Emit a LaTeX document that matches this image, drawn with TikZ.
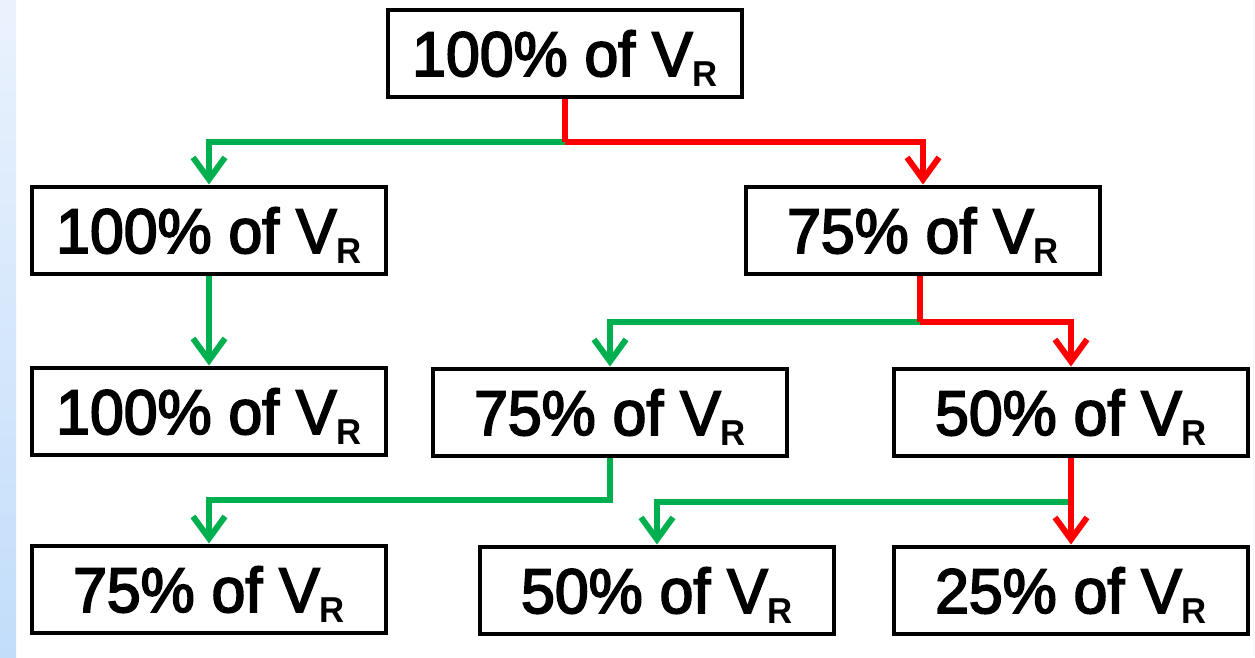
\documentclass[tikz,border=0pt]{standalone}
\usepackage{fontspec}
\setmainfont{Liberation Sans}
\newfontfamily\boxfont[FakeBold=3]{Liberation Sans}
\newfontfamily\subfont{Liberation Sans Bold}
\usetikzlibrary{arrows.meta}
\definecolor{pgreen}{HTML}{00B050}
\definecolor{pred}{HTML}{FF0000}
\definecolor{stripTop}{HTML}{EAF2FD}
\definecolor{stripBot}{HTML}{C2DDFA}
\newcommand{\vr}[1]{\raisebox{-23pt}[0pt][0pt]{\scalebox{0.965}[1]{\boxfont\fontsize{63}{63}\selectfont #1 of V\raisebox{-10pt}{\subfont\fontsize{36}{36}\selectfont R}}}}
\tikzset{
  box/.style={draw=black, line width=4pt, minimum width=354pt, minimum height=87pt,
    inner sep=0pt, fill=white},
  conn/.style={line width=6pt},
  arr/.style={conn, -{Straight Barb[length=22pt,width=32pt,line width=6pt]}},
}
\begin{document}
\begin{tikzpicture}[x=1pt,y=-1pt]
\useasboundingbox (0,0) rectangle (1255,657);
\fill[white] (0,0) rectangle (1255,657);
\shade[top color=stripTop, bottom color=stripBot] (0,0) rectangle (16,657);
\draw[stripTop!70!white, line width=1pt] (1253.5,0) -- (1253.5,657);

\node[box] (top) at (565,53) {\vr{100\%}};
\node[box] (r2L) at (209,230) {\vr{100\%}};
\node[box] (r2R) at (923,230) {\vr{75\%}};
\node[box] (r3L) at (209,411) {\vr{100\%}};
\node[box] (r3M) at (610,412) {\vr{75\%}};
\node[box] (r3R) at (1071,412) {\vr{50\%}};
\node[box] (r4L) at (209,589) {\vr{75\%}};
\node[box] (r4M) at (657,590) {\vr{50\%}};
\node[box] (r4R) at (1071,590) {\vr{25\%}};

\coordinate (j1) at (565,142);
\coordinate (j2) at (920,322);
\coordinate (j3) at (610,500);
\coordinate (j4) at (1071,502);

% top level
\draw[arr, pgreen] (j1) -| (r2L.north);
\draw[conn, pred] (top.south) -- (j1);
\draw[arr, pred] (j1) -| (r2R.north);
% left column
\draw[arr, pgreen] (r2L.south) -- (r3L.north);
% right branch
\draw[arr, pgreen] (j2) -| (r3M.north);
\draw[conn, pred] (r2R.south -| j2) -- (j2);
\draw[arr, pred] (j2) -| (r3R.north);
% middle to left
\draw[arr, pgreen] (r3M.south) |- (j3) -| (r4L.north);
% right bottom
\draw[arr, pgreen] (j4) -| (r4M.north);
\draw[arr, pred] (r3R.south) -- (r4R.north);
\end{tikzpicture}
\end{document}
